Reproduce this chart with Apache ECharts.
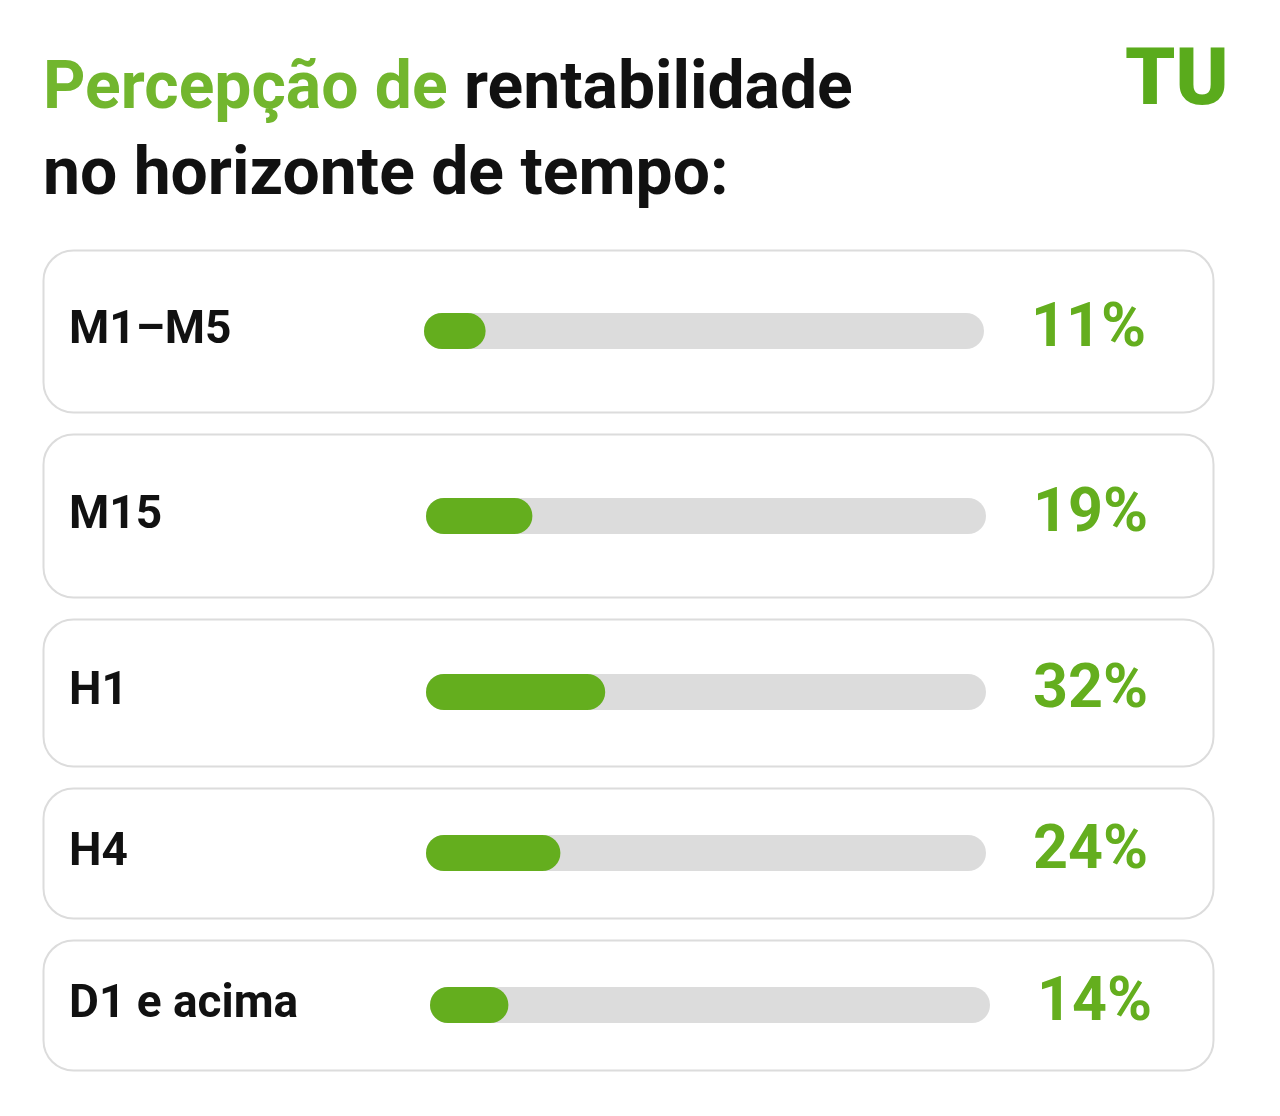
<!DOCTYPE html>
<html>
<head>
<meta charset="utf-8">
<script src="https://cdn.jsdelivr.net/npm/echarts@6/dist/echarts.min.js"></script>
<style>
  html, body { margin: 0; padding: 0; background: #fff; }
  #chart { width: 1280px; height: 1116px; }
</style>
</head>
<body>
<div id="chart"></div>
<script>
// dados
var categories = ['M1–M5', 'M15', 'H1', 'H4', 'D1 e acima'];
var values = [11, 19, 32, 24, 14];
var pctLabels = ['11%', '19%', '32%', '24%', '14%'];

var green = '#64ae1e';
var font = 'Roboto';

// caixas (cartões) e posição das barras
var cardTops = [250, 434, 619, 788, 940];
var cardBottoms = [412, 597, 766, 918, 1070];
var barCenters = [331, 516, 692, 853, 1005];
var barLefts = [424, 426, 426, 426, 430];
var barW = 36;

var chartDom = document.getElementById('chart');
var myChart = echarts.init(chartDom);

var grids = [], xAxes = [], yAxes = [], series = [], graphics = [];

categories.forEach(function (cat, i) {
    graphics.push({
        type: 'rect',
        z: -1,
        shape: { x: 43.5, y: cardTops[i] + 0.5, width: 1170, height: cardBottoms[i] - cardTops[i], r: 30 },
        style: { fill: '#fff', stroke: '#dcdcdc', lineWidth: 2 }
    });
    grids.push({
        left: barLefts[i],
        width: 560,
        top: barCenters[i] - barW / 2,
        height: barW
    });
    xAxes.push({
        gridIndex: i, type: 'value', min: 0, max: 100, show: false
    });
    yAxes.push({
        gridIndex: i, type: 'category', data: [cat],
        axisLine: { show: false }, axisTick: { show: false }, splitLine: { show: false },
        axisLabel: {
            align: 'left', margin: barLefts[i] - 69,
            fontFamily: font, fontWeight: 'bold', fontSize: 46, color: '#111'
        }
    });
    yAxes.push({
        gridIndex: i, type: 'category', position: 'right', data: [pctLabels[i]],
        axisLine: { show: false }, axisTick: { show: false }, splitLine: { show: false },
        axisLabel: {
            align: 'left', margin: 47,
            fontFamily: font, fontWeight: 'bold', fontSize: 61, color: green
        }
    });
    series.push({
        type: 'bar',
        xAxisIndex: i,
        yAxisIndex: i * 2,
        data: [values[i]],
        barWidth: barW,
        showBackground: true,
        backgroundStyle: { color: '#dcdcdc', borderRadius: barW / 2 },
        itemStyle: { color: green, borderRadius: barW / 2 },
        silent: true
    });
});

graphics.push({
    type: 'text',
    left: 1125, top: 44,
    style: { text: 'TU', font: '900 80px Roboto', fill: '#5aab1c' }
});

var option = {
    backgroundColor: '#fff',
    animation: false,
    title: {
        left: 38, top: 43,
        text: '{g|Percepção de }{b|rentabilidade}\n{b|no horizonte de tempo:}',
        textStyle: {
            lineHeight: 86,
            rich: {
                g: { fontFamily: font, fontWeight: 'bold', fontSize: 66, color: '#72b62e', lineHeight: 86 },
                b: { fontFamily: font, fontWeight: 'bold', fontSize: 66, color: '#111', lineHeight: 86 }
            }
        }
    },
    grid: grids,
    xAxis: xAxes,
    yAxis: yAxes,
    series: series,
    graphic: graphics
};

option && myChart.setOption(option);
</script>
</body>
</html>
